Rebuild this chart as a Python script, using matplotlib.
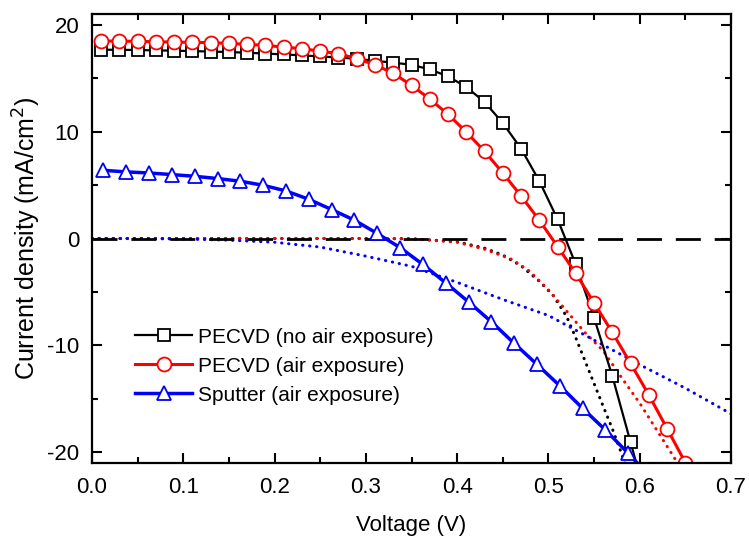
import matplotlib
matplotlib.use("Agg")
import matplotlib.pyplot as plt
from matplotlib.ticker import MultipleLocator

plt.rcParams['font.family'] = ['Liberation Sans', 'DejaVu Sans']
plt.rcParams['axes.unicode_minus'] = False

# Light J-V curves (markers)
v_pecvd = [0.01, 0.03, 0.05, 0.07, 0.09, 0.11, 0.13, 0.15, 0.17, 0.19,
           0.21, 0.23, 0.25, 0.27, 0.29, 0.31, 0.33, 0.35, 0.37, 0.39,
           0.41, 0.43, 0.45, 0.47, 0.49, 0.51, 0.53, 0.55, 0.57, 0.59, 0.61]
j_no_air = [17.66, 17.65, 17.63, 17.60, 17.57, 17.53, 17.49, 17.44, 17.38, 17.30,
            17.22, 17.13, 17.03, 16.93, 16.82, 16.62, 16.45, 16.25, 15.82, 15.17,
            14.17, 12.77, 10.80, 8.41, 5.38, 1.80, -2.43, -7.42, -12.87, -19.07, -25.3]

v_pecvd_air = [0.01, 0.03, 0.05, 0.07, 0.09, 0.11, 0.13, 0.15, 0.17, 0.19,
               0.21, 0.23, 0.25, 0.27, 0.29, 0.31, 0.33, 0.35, 0.37, 0.39,
               0.41, 0.43, 0.45, 0.47, 0.49, 0.51, 0.53, 0.55, 0.57, 0.59,
               0.61, 0.63, 0.65, 0.67]
j_pecvd_air = [18.47, 18.47, 18.44, 18.41, 18.37, 18.35, 18.32, 18.25, 18.16, 18.07,
               17.90, 17.76, 17.53, 17.29, 16.82, 16.26, 15.45, 14.33, 13.05, 11.62,
               9.96, 8.16, 6.13, 3.98, 1.71, -0.75, -3.27, -6.02, -8.79, -11.68,
               -14.64, -17.79, -20.97, -24.2]

v_sputter = [0.0125, 0.0375, 0.0625, 0.0875, 0.1125, 0.1375, 0.1625, 0.1875,
             0.2125, 0.2375, 0.2625, 0.2875, 0.3125, 0.3375, 0.3625, 0.3875,
             0.4125, 0.4375, 0.4625, 0.4875, 0.5125, 0.5375, 0.5625, 0.5875, 0.6125]
j_sputter = [6.38, 6.23, 6.13, 5.98, 5.82, 5.61, 5.36, 4.98,
             4.45, 3.67, 2.71, 1.71, 0.47, -0.85, -2.43, -4.15,
             -5.93, -7.79, -9.81, -11.78, -13.78, -15.89, -17.92, -20.10, -22.4]

# Dark J-V curves (dotted)
v_dark_no_air = [0.0, 0.1, 0.2, 0.3, 0.35, 0.40, 0.43, 0.45, 0.47, 0.49,
                 0.505, 0.52, 0.53, 0.545, 0.56, 0.57, 0.58, 0.59]
j_dark_no_air = [0.0, 0.0, 0.0, 0.0, -0.02, -0.30, -0.90, -1.55, -2.55, -4.0,
                 -5.3, -7.3, -9.3, -12.5, -15.7, -17.8, -20.1, -22.5]

v_dark_air = [0.0, 0.1, 0.2, 0.3, 0.35, 0.40, 0.43, 0.46, 0.48, 0.50,
              0.52, 0.54, 0.56, 0.58, 0.60, 0.62, 0.64, 0.65]
j_dark_air = [0.0, 0.0, 0.0, 0.0, -0.02, -0.35, -1.0, -1.95, -3.1, -4.8,
              -6.8, -8.8, -10.5, -13.0, -15.4, -18.1, -20.8, -22.0]

v_dark_sputter = [0.0, 0.05, 0.10, 0.15, 0.20, 0.25, 0.30, 0.35, 0.40, 0.45,
                  0.50, 0.55, 0.60, 0.65, 0.70]
j_dark_sputter = [0.0, 0.0, -0.05, -0.15, -0.35, -0.80, -1.65, -2.6, -4.1, -5.7,
                  -7.2, -9.5, -11.8, -14.0, -16.4]

labels = ["PECVD (no air exposure)", "PECVD (air exposure)", "Sputter (air exposure)"]
x_ticks = [0.0, 0.1, 0.2, 0.3, 0.4, 0.5, 0.6, 0.7]
y_ticks = [-20, -10, 0, 10, 20]

fig = plt.figure(figsize=(7.49, 5.43), dpi=100)
ax = fig.add_axes([0.1228, 0.1473, 0.8532, 0.8269])

dot_kw = dict(linestyle=(0, (0.1, 2.2)), dash_capstyle='round', linewidth=2.2)
ax.plot(v_dark_no_air, j_dark_no_air, color='black', **dot_kw)
ax.plot(v_dark_air, j_dark_air, color='red', **dot_kw)
ax.plot(v_dark_sputter, j_dark_sputter, color='blue', **dot_kw)

ax.axhline(0, color='black', linewidth=2.0, linestyle=(0, (9, 5)))

ax.plot(v_pecvd, j_no_air, color='black', linewidth=1.6, marker='s',
        markersize=8, markerfacecolor='white', markeredgecolor='black',
        markeredgewidth=1.3, label=labels[0])
ax.plot(v_pecvd_air, j_pecvd_air, color='red', linewidth=2.2, marker='o',
        markersize=10, markerfacecolor='white', markeredgecolor='red',
        markeredgewidth=1.3, label=labels[1])
ax.plot(v_sputter, j_sputter, color='blue', linewidth=2.5, marker='^',
        markersize=10.5, markerfacecolor='white', markeredgecolor='blue',
        markeredgewidth=1.3, label=labels[2])

ax.set_xlim(0, 0.7)
ax.set_ylim(-21, 21)
ax.set_xticks(x_ticks)
ax.set_xticklabels([f"{t:.1f}" for t in x_ticks])
ax.set_yticks(y_ticks)
ax.set_yticklabels([str(t) for t in y_ticks])
ax.xaxis.set_minor_locator(MultipleLocator(0.05))
ax.yaxis.set_minor_locator(MultipleLocator(5))
ax.tick_params(which='both', direction='in', top=True, right=True, width=1.5,
               labelsize=16)
ax.tick_params(axis='x', which='major', pad=10)
ax.tick_params(axis='y', which='major', pad=9)
ax.tick_params(which='major', length=7)
ax.tick_params(which='minor', length=4.5)
for s in ax.spines.values():
    s.set_linewidth(1.6)

ax.set_xlabel("Voltage (V)", fontsize=16, labelpad=12)
ax.set_ylabel("Current density (mA/cm$^2$)", fontsize=18, labelpad=3)

ax.legend(loc='center left', bbox_to_anchor=(0.068, 0.216), frameon=False,
          fontsize=15, handlelength=2.7, handletextpad=0.3, labelspacing=0.48,
          borderpad=0, borderaxespad=0)

fig.savefig("out.png", dpi=100)
